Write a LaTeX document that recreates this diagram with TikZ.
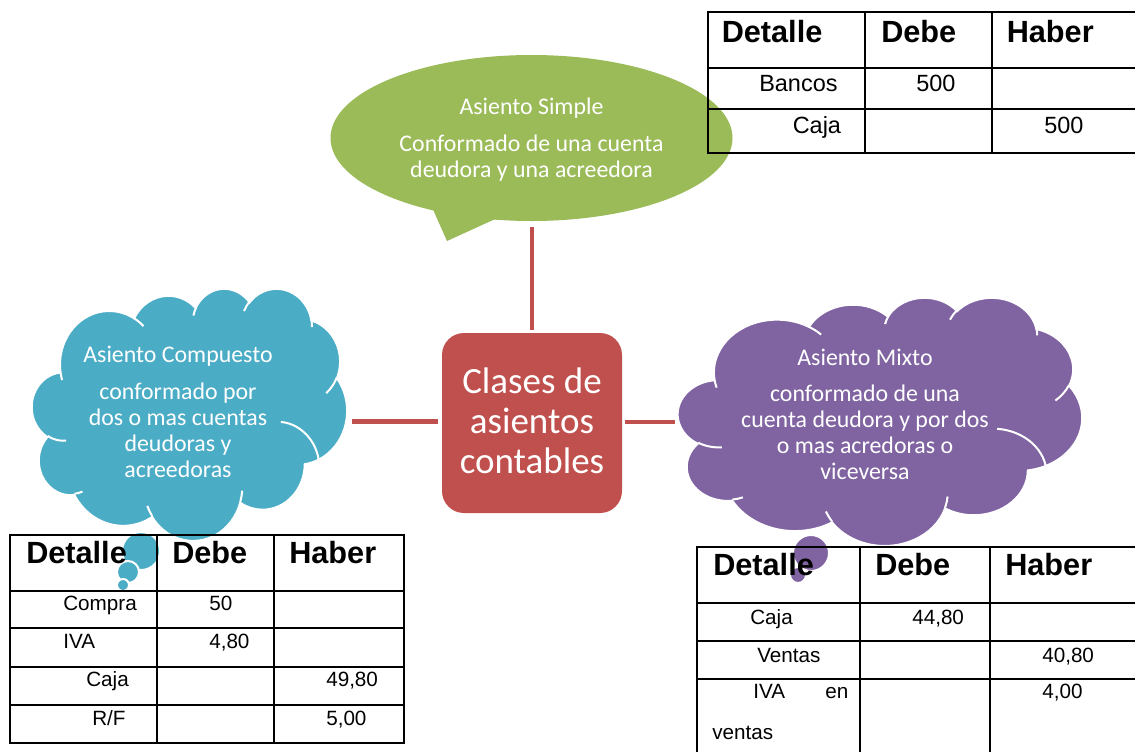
\documentclass[tikz,border=0pt]{standalone}
\usepackage{fontspec}
\setmainfont{Carlito}
\newfontfamily\arialf{Liberation Sans}
\definecolor{cRed}{HTML}{C0504D}
\definecolor{cGreen}{HTML}{9BBB59}
\definecolor{cBlue}{HTML}{4BACC6}
\definecolor{cPurple}{HTML}{8064A2}
\newcommand\cloudarc[4]{arc[x radius=#1, y radius=#2, start angle={vp(#1/#2,#3)}, end angle={vp(#1/#2,#4)}]}
\newcommand\officecloud[5]{%
\begin{scope}[shift={(#1,#2)}, x=#3pt, y=#4pt]
\filldraw[fill=#5, draw=white, line width=1.5pt]
 (390,1437) \cloudarc{675.3}{919}{-190.4875}{-66.707}
 \cloudarc{533.3}{726.7}{-144.1024}{-54.1572}
 \cloudarc{436.5}{594.5}{-145.8079}{-46.0849}
 \cloudarc{485.7}{659.5}{-130.9861}{-13.7444}
 \cloudarc{533.3}{727.3}{-78.7089}{30.318}
 \cloudarc{677.5}{922}{-46.2673}{84.0017}
 \cloudarc{578.5}{786.7}{0.625}{114.6583}
 \cloudarc{675.2}{921.5}{22.4516}{137.6242}
 \cloudarc{772}{1054.3}{66.2426}{141.9536}
 \cloudarc{436}{591.8}{-274.9421}{-128.2065}
 \cloudarc{434.5}{594.5}{-246.8285}{-94.3096} -- cycle;
\draw[white, line width=1.5pt]
 (469.3,2617.7) \cloudarc{434.5}{594.5}{86.742}{113.1715}
 (692.8,3489.9) \cloudarc{436}{591.8}{73.6105}{85.058}
 (1647.8,3909) \cloudarc{675.2}{921.5}{137.6242}{151.7053}
 (2882.7,3475.1) \cloudarc{675.2}{921.5}{6.4533}{22.4517}
 (3412.9,2295.4) \cloudarc{578.5}{786.7}{-86.276}{0.625}
 (4179.8,1535.4) \cloudarc{533.3}{727.3}{30.318}{58.0695}
 (3832.4,542.6) \cloudarc{485.7}{659.5}{-13.7443}{1.1146}
 (2907.8,395.2) \cloudarc{485.7}{659.5}{-149.1815}{-130.9861}
 (2214.1,472) \cloudarc{436.5}{594.5}{-163.4943}{-145.8079}
 (1400,519.2) \cloudarc{675.3}{919}{-66.707}{-54.3876}
 (412.7,1578.9) \cloudarc{675.3}{919}{157.6544}{169.5126};
\end{scope}}
\begin{document}
\begin{tikzpicture}[x=0.75pt, y=-0.75pt,
  declare function={vp(\k,\a)=\a+atan((\k-1)*sin(\a)*cos(\a)/(cos(\a)*cos(\a)+\k*sin(\a)*sin(\a)));},
  conn/.style={draw=cRed, line width=3.5pt},
  ctext/.style={text=white, font=\fontsize{17.9}{19.5}\selectfont, anchor=base, inner sep=0pt},
  btext/.style={text=white, font=\fontsize{27.75}{30}\selectfont, anchor=base, inner sep=0pt},
  thead/.style={font=\arialf\bfseries\fontsize{23}{26}\selectfont, anchor=base west, inner sep=0pt},
  tcell/.style={font=\arialf\fontsize{15.5}{18}\selectfont, anchor=base west, inner sep=0pt},
  tcellL/.style={font=\arialf\fontsize{17.6}{20}\selectfont, anchor=base west, inner sep=0pt},
  grid/.style={draw=black, line width=1.5pt, line cap=rect},
  tailc/.style={draw=white, line width=1.5pt}]
\useasboundingbox (0,0) rectangle (1135,751);
\fill[white] (0,0) rectangle (1135,751);

% ---- green speech bubble (Asiento Simple)
\fill[cGreen] (531.5,138) ellipse [x radius=201, y radius=83];
\fill[cGreen] (431,205) -- (447,241) -- (504,215) -- (470,190) -- cycle;
\node[ctext] (s1) at (531.5,114) {Asiento Simple};
\node[ctext] (s2) at (531.5,151) {Conformado de una cuenta};
\node[ctext] (s3) at (531.5,177) {deudora y una acreedora};

% ---- top table
\foreach \yy in {12,68,109,153} \draw[grid] (708,\yy) -- (1135,\yy);
\foreach \xx in {708,865,992} \draw[grid] (\xx,12) -- (\xx,153);
\node[thead] (ta1) at (721.5,42) {Detalle};
\node[thead] (ta2) at (881,42) {Debe};
\node[thead] (ta3) at (1006.5,42) {Haber};
\node[tcellL] (ta4) at (759,91) {Bancos};
\node[tcellL] (ta5) at (916,91) {500};
\node[tcellL] (ta6) at (792.5,133) {Caja};
\node[tcellL] (ta7) at (1044,133) {500};

% ---- blue cloud (Asiento Compuesto)
\officecloud{32}{288}{0.0546875}{-0.04375}{cBlue}
\filldraw[fill=cBlue, tailc] (141,551) circle [radius=19];
\filldraw[fill=cBlue, tailc] (128,572) circle [radius=11];
\filldraw[fill=cBlue, tailc] (123,585) circle [radius=6];
\node[ctext] (c1) at (178,362) {Asiento Compuesto};
\node[ctext] (c2) at (178,399) {conformado por};
\node[ctext] (c3) at (178,425) {dos o mas cuentas};
\node[ctext] (c4) at (178,451) {deudoras y};
\node[ctext] (c5) at (178,477) {acreedoras};

% ---- purple cloud (Asiento Mixto)
\officecloud{678}{297}{0.0701389}{-0.0430556}{cPurple}
\filldraw[fill=cPurple, tailc] (811,553) circle [radius=18];
\filldraw[fill=cPurple, tailc] (798,575) circle [radius=8];
\node[ctext] (m1) at (865,365) {Asiento Mixto};
\node[ctext] (m2) at (865,401) {conformado de una};
\node[ctext] (m3) at (865,427) {cuenta deudora y por dos};
\node[ctext] (m4) at (865,453) {o mas acredoras o};
\node[ctext] (m5) at (865,479) {viceversa};

% ---- central box
\node[fill=cRed, rounded corners=16.5pt, minimum width=135pt, minimum height=135pt, inner sep=0pt] (clases) at (532,423) {};
\node[btext] (k1) at (532,393) {Clases de};
\node[btext] (k2) at (532,433) {asientos};
\node[btext] (k3) at (532,473) {contables};

% ---- connectors
\coordinate (simpleB) at (532,227);
\coordinate (compR) at (352,421.7);
\coordinate (mixL) at (675,422);
\draw[conn] (simpleB) -- ([yshift=2.25pt]clases.north);
\draw[conn, shorten >=3pt] (compR) -- (clases.west |- compR);
\draw[conn, shorten <=2.25pt] (clases.east |- mixL) -- (mixL);

% ---- bottom-left table
\foreach \yy in {535,591,628,667,705,743} \draw[grid] (10,\yy) -- (404,\yy);
\foreach \xx in {10,157,274,404} \draw[grid] (\xx,535) -- (\xx,743);
\node[thead] (tb1) at (26,563) {Detalle};
\node[thead] (tb2) at (172,563) {Debe};
\node[thead] (tb3) at (289,563) {Haber};
\node[tcell] (tb4) at (63,610.5) {Compra};
\node[tcell] (tb5) at (209,610.5) {50};
\node[tcell] (tb6) at (63,648.5) {IVA};
\node[tcell] (tb7) at (209,648.5) {4,80};
\node[tcell] (tb8) at (86,686.5) {Caja};
\node[tcell] (tb9) at (326,686.5) {49,80};
\node[tcell] (tb10) at (92,725) {R/F};
\node[tcell] (tb11) at (326,725) {5,00};

% ---- bottom-right table
\foreach \yy in {547,603,641,679} \draw[grid] (697,\yy) -- (1135,\yy);
\foreach \xx in {697,860,990} \draw[grid] (\xx,547) -- (\xx,752);
\node[thead] (tc1) at (713,575) {Detalle};
\node[thead] (tc2) at (875,575) {Debe};
\node[thead] (tc3) at (1005,575) {Haber};
\node[tcell] (tc4) at (750,624) {Caja};
\node[tcell] (tc5) at (912,624) {44,80};
\node[tcell] (tc6) at (757,662.5) {Ventas};
\node[tcell] (tc7) at (1042,662.5) {40,80};
\node[tcell] (tc8) at (753,698) {IVA};
\node[tcell] (tc9) at (825,698) {en};
\node[tcell] (tc10) at (1042,698) {4,00};
\node[tcell] (tc11) at (712,739) {ventas};
\end{tikzpicture}
\end{document}
